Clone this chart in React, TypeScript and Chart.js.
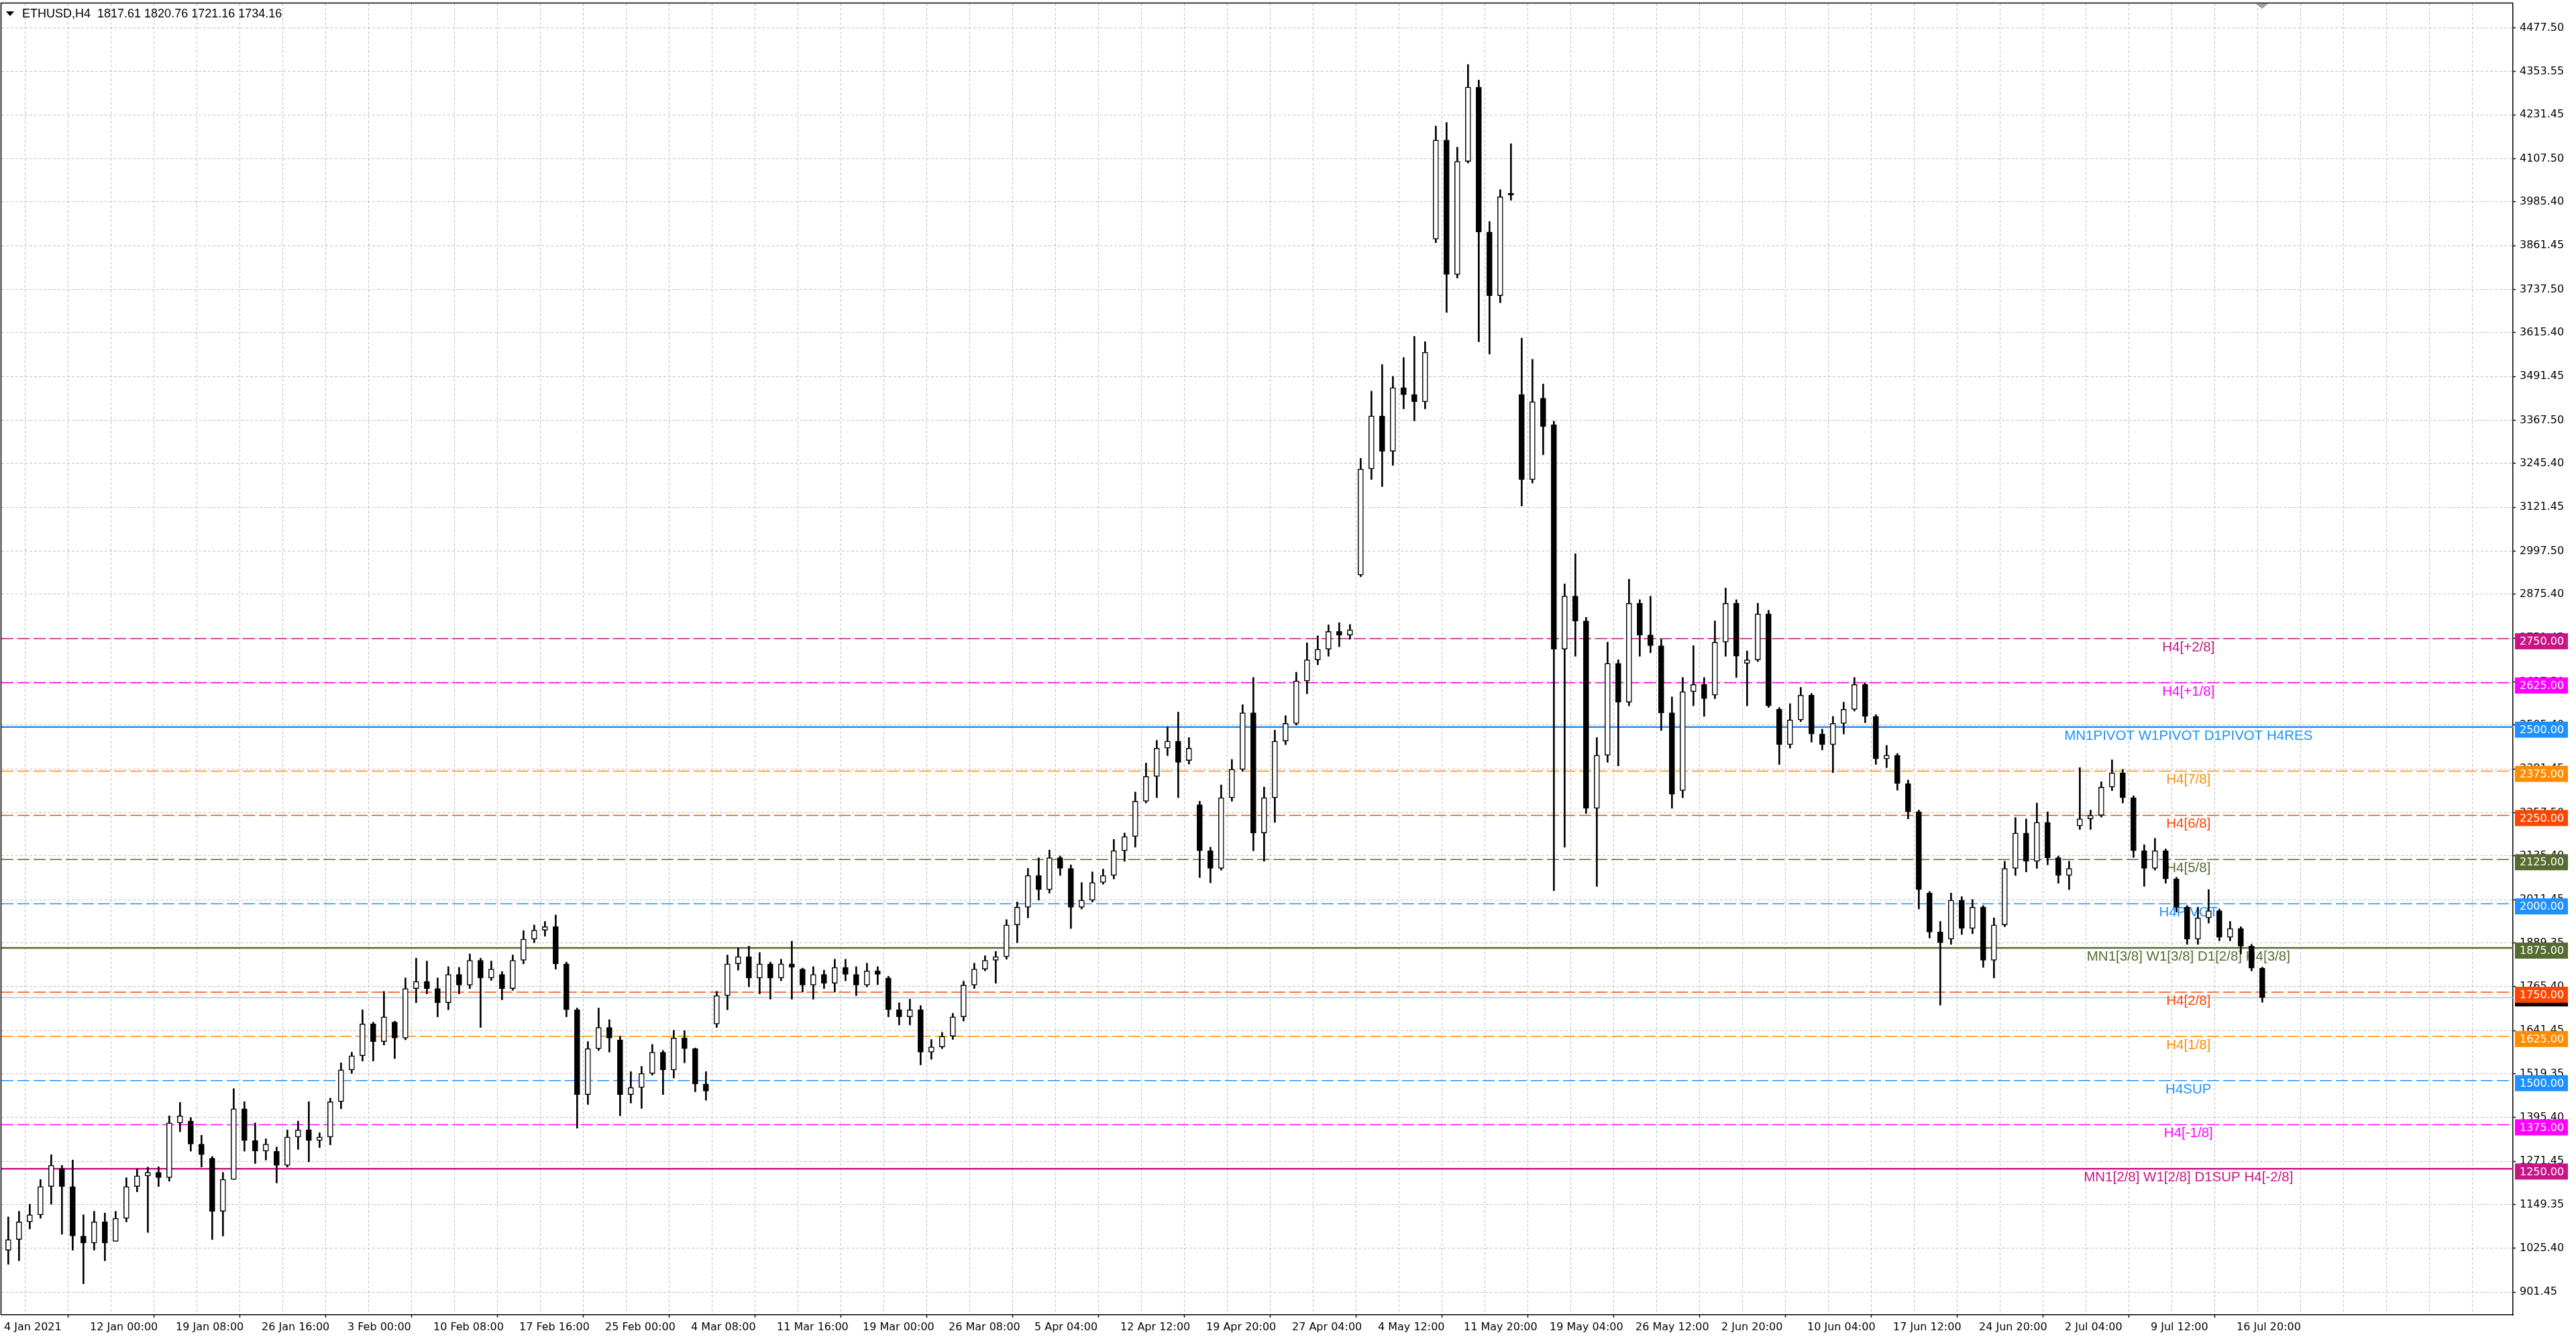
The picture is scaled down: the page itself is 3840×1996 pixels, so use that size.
import React, { useEffect, useRef } from 'react';
import { Chart, registerables } from 'chart.js';

Chart.register(...registerables);

// time axis, one label every 32 H4 bars
const DATE_LABELS = [
  '4 Jan 2021', '12 Jan 00:00', '19 Jan 08:00', '26 Jan 16:00', '3 Feb 00:00',
  '10 Feb 08:00', '17 Feb 16:00', '25 Feb 00:00', '4 Mar 08:00', '11 Mar 16:00',
  '19 Mar 00:00', '26 Mar 08:00', '5 Apr 04:00', '12 Apr 12:00', '19 Apr 20:00',
  '27 Apr 04:00', '4 May 12:00', '11 May 20:00', '19 May 04:00', '26 May 12:00',
  '2 Jun 20:00', '10 Jun 04:00', '17 Jun 12:00', '24 Jun 20:00', '2 Jul 04:00',
  '9 Jul 12:00', '16 Jul 20:00',
];

// price scale as printed on the right
const PRICE_TICKS = [
  901.45, 1025.40, 1149.35, 1271.45, 1395.40, 1519.35, 1641.45, 1765.40, 1889.35, 2011.45,
  2135.40, 2257.50, 2381.45, 2505.40, 2627.50, 2751.45, 2875.40, 2997.50, 3121.45, 3245.40,
  3367.50, 3491.45, 3615.40, 3737.50, 3861.45, 3985.40, 4107.50, 4231.45, 4353.55, 4477.50,
];

// ETHUSD candles (8 candles per date label)
const OPEN = [
  1020, 1050, 1100, 1120, 1200, 1250, 1200, 1060, 1040, 1100,
  1045, 1110, 1200, 1230, 1240, 1225, 1380, 1385, 1320, 1280,
  1130, 1220, 1420, 1330, 1300, 1300, 1260, 1340, 1360, 1330,
  1340, 1440, 1530, 1570, 1660, 1610, 1665, 1620, 1760, 1780,
  1760, 1720, 1800, 1770, 1840, 1790, 1800, 1760, 1840, 1900,
  1925, 1935, 1830, 1700, 1460, 1590, 1650, 1615, 1460, 1480,
  1520, 1580, 1530, 1620, 1590, 1490, 1660, 1740, 1830, 1850,
  1790, 1830, 1790, 1830, 1815, 1770, 1800, 1775, 1820, 1800,
  1770, 1810, 1790, 1700, 1680, 1700, 1580, 1595, 1625, 1680,
  1770, 1815, 1840, 1850, 1940, 1990, 2080, 2040, 2130, 2100,
  1990, 2010, 2060, 2080, 2150, 2190, 2290, 2360, 2440, 2460,
  2405, 2280, 2150, 2100, 2300, 2380, 2540, 2200, 2300, 2460,
  2510, 2630, 2690, 2720, 2770, 2760, 2930, 3230, 3380, 3280,
  3460, 3440, 3420, 3880, 4160, 3780, 4100, 4310, 3900, 3720,
  4010, 3440, 3200, 3430, 3355, 2720, 2870, 2800, 2270, 2420,
  2680, 2570, 2850, 2760, 2730, 2540, 2320, 2600, 2620, 2590,
  2740, 2850, 2680, 2690, 2820, 2550, 2450, 2520, 2590, 2480,
  2450, 2510, 2550, 2620, 2530, 2410, 2420, 2340, 2260, 2030,
  1920, 1900, 2010, 1930, 1990, 1840, 1940, 2100, 2200, 2120,
  2230, 2130, 2080, 2220, 2240, 2250, 2330, 2370, 2300, 2150,
  2100, 2150, 2070, 1990, 1900, 1960, 1980, 1905, 1930, 1880, 1817.61,
];
const HIGH = [
  1114, 1130, 1150, 1220, 1290, 1260, 1275, 1120, 1130, 1125,
  1130, 1225, 1250, 1255, 1256, 1400, 1438, 1395, 1345, 1285,
  1240, 1477, 1440, 1380, 1335, 1312, 1360, 1385, 1440, 1352,
  1450, 1550, 1580, 1700, 1665, 1752, 1668, 1790, 1846, 1838,
  1790, 1822, 1820, 1858, 1846, 1838, 1808, 1855, 1924, 1940,
  1950, 1968, 1835, 1705, 1610, 1705, 1672, 1625, 1525, 1540,
  1602, 1585, 1642, 1641, 1592, 1525, 1752, 1855, 1875, 1880,
  1862, 1835, 1843, 1894, 1818, 1822, 1812, 1843, 1843, 1822,
  1832, 1822, 1795, 1720, 1730, 1712, 1616, 1636, 1690, 1781,
  1832, 1853, 1865, 1955, 2005, 2100, 2130, 2152, 2135, 2110,
  2060, 2090, 2098, 2182, 2200, 2316, 2398, 2462, 2500, 2542,
  2470, 2290, 2160, 2336, 2408, 2563, 2640, 2330, 2491, 2532,
  2655, 2738, 2758, 2789, 2795, 2790, 3260, 3450, 3525, 3492,
  3545, 3605, 3590, 4200, 4210, 4140, 4374, 4330, 3930, 4020,
  4150, 3600, 3540, 3470, 3365, 2905, 2990, 2810, 2470, 2740,
  2690, 2918, 2860, 2870, 2748, 2585, 2640, 2730, 2640, 2800,
  2893, 2860, 2715, 2850, 2830, 2555, 2566, 2612, 2595, 2494,
  2530, 2570, 2640, 2625, 2535, 2448, 2425, 2350, 2265, 2035,
  1950, 2030, 2020, 2012, 1995, 1960, 2120, 2244, 2240, 2285,
  2260, 2135, 2120, 2385, 2265, 2345, 2407, 2380, 2305, 2167,
  2185, 2155, 2075, 1995, 1990, 2040, 1985, 1950, 1935, 1885, 1820.76,
];
const LOW = [
  980, 990, 1080, 1110, 1150, 1065, 1020, 925, 1020, 990,
  1045, 1100, 1185, 1070, 1200, 1215, 1355, 1300, 1255, 1050,
  1060, 1220, 1300, 1265, 1275, 1210, 1255, 1305, 1270, 1310,
  1318, 1420, 1520, 1555, 1555, 1600, 1562, 1615, 1720, 1745,
  1680, 1700, 1745, 1760, 1650, 1783, 1728, 1755, 1830, 1890,
  1908, 1815, 1680, 1365, 1432, 1585, 1580, 1400, 1436, 1421,
  1515, 1460, 1507, 1550, 1468, 1444, 1650, 1700, 1812, 1765,
  1745, 1730, 1782, 1730, 1750, 1730, 1760, 1750, 1782, 1740,
  1765, 1771, 1680, 1657, 1657, 1544, 1560, 1590, 1616, 1668,
  1760, 1810, 1775, 1843, 1890, 1960, 2010, 2030, 2080, 1930,
  1985, 2005, 2055, 2070, 2120, 2160, 2285, 2300, 2419, 2300,
  2395, 2074, 2059, 2095, 2290, 2375, 2150, 2120, 2230, 2450,
  2505, 2594, 2676, 2700, 2727, 2748, 2925, 3200, 3180, 3240,
  3400, 3366, 3400, 3870, 3673, 3770, 4095, 3590, 3555, 3700,
  3990, 3125, 3190, 3270, 2037, 2160, 2700, 2255, 2049, 2400,
  2390, 2560, 2700, 2710, 2490, 2270, 2300, 2560, 2530, 2580,
  2700, 2640, 2560, 2685, 2555, 2394, 2440, 2515, 2457, 2435,
  2371, 2480, 2545, 2512, 2394, 2385, 2321, 2240, 1985, 1903,
  1713, 1885, 1913, 1915, 1820, 1790, 1935, 2080, 2090, 2100,
  2110, 2058, 2040, 2210, 2210, 2245, 2320, 2285, 2131, 2049,
  2095, 2058, 1976, 1885, 1885, 1945, 1895, 1895, 1858, 1810, 1721.16,
];
const CLOSE = [
  1050, 1100, 1120, 1200, 1260, 1200, 1060, 1040, 1100, 1040,
  1110, 1200, 1230, 1240, 1225, 1380, 1400, 1320, 1290, 1130,
  1220, 1420, 1330, 1300, 1320, 1260, 1340, 1360, 1330, 1340,
  1440, 1530, 1570, 1660, 1610, 1680, 1620, 1760, 1780, 1760,
  1720, 1800, 1770, 1840, 1790, 1815, 1760, 1840, 1900, 1925,
  1935, 1830, 1700, 1460, 1590, 1650, 1620, 1460, 1480, 1520,
  1580, 1530, 1620, 1590, 1490, 1470, 1740, 1830, 1850, 1790,
  1830, 1790, 1830, 1820, 1770, 1800, 1775, 1820, 1800, 1770,
  1810, 1800, 1700, 1680, 1700, 1580, 1595, 1625, 1680, 1770,
  1815, 1840, 1850, 1940, 1990, 2080, 2040, 2130, 2100, 1990,
  2010, 2060, 2080, 2150, 2190, 2290, 2360, 2440, 2460, 2400,
  2440, 2150, 2100, 2300, 2380, 2540, 2200, 2300, 2460, 2510,
  2630, 2690, 2720, 2770, 2760, 2775, 3230, 3380, 3280, 3460,
  3440, 3420, 3560, 4160, 3780, 4100, 4310, 3900, 3720, 4000,
  4005, 3200, 3420, 3350, 2720, 2870, 2800, 2270, 2420, 2680,
  2570, 2850, 2760, 2730, 2540, 2310, 2600, 2620, 2580, 2740,
  2850, 2700, 2690, 2820, 2560, 2450, 2520, 2590, 2480, 2450,
  2510, 2550, 2620, 2530, 2410, 2420, 2340, 2260, 2040, 1920,
  1890, 2010, 1930, 1990, 1840, 1940, 2100, 2200, 2120, 2230,
  2130, 2080, 2100, 2240, 2250, 2330, 2370, 2300, 2150, 2100,
  2150, 2070, 1990, 1900, 1960, 1980, 1905, 1930, 1880, 1818, 1734.16,
];

// murrey / pivot levels drawn by the indicator
const LEVEL_PRICES = [2750, 2625, 2500, 2375, 2250, 2125, 2000, 1875, 1750, 1625, 1500, 1375, 1250];
const LEVEL_NAMES = [
  'H4[+2/8]', 'H4[+1/8]', 'MN1PIVOT W1PIVOT D1PIVOT H4RES', 'H4[7/8]', 'H4[6/8]', 'H4[5/8]',
  'H4PIVOT', 'MN1[3/8] W1[3/8] D1[2/8] H4[3/8]', 'H4[2/8]', 'H4[1/8]', 'H4SUP', 'H4[-1/8]',
  'MN1[2/8] W1[2/8] D1SUP H4[-2/8]',
];
const LEVEL_COLORS = [
  '#C71585', '#FF00FF', '#1E90FF', '#FF8C00', '#FF4500', '#556B2F', '#1E90FF',
  '#556B2F', '#FF4500', '#FF8C00', '#1E90FF', '#FF00FF', '#C71585',
];
const LEVEL_SOLID = [false, false, true, false, false, false, false, true, false, false, false, false, true];

const LAST_BID = 1734.16;
const TITLE = 'ETHUSD,H4  1817.61 1820.76 1721.16 1734.16';

const CANDLES_PER_LABEL = 8;
const X_MIN = -0.031;
const X_MAX = 29.219;
const Y_MIN = 837;
const Y_MAX = 4547;
const LEVEL_TEXT_AT = 25.44;

const AXIS_FONT = { family: '"DejaVu Sans", Verdana, sans-serif', size: 16 };

const levelsPlugin = {
  id: 'levels',
  beforeDatasetsDraw(chart: any) {
    const { ctx, chartArea, scales } = chart;
    const y = scales.y;
    const x = scales.x;
    ctx.save();
    // bid line
    const by = y.getPixelForValue(LAST_BID);
    ctx.strokeStyle = '#c0c0c0';
    ctx.lineWidth = 1.5;
    ctx.beginPath();
    ctx.moveTo(chartArea.left, by);
    ctx.lineTo(chartArea.right, by);
    ctx.stroke();

    LEVEL_PRICES.forEach((p, i) => {
      const py = y.getPixelForValue(p);
      ctx.strokeStyle = LEVEL_COLORS[i];
      ctx.lineWidth = LEVEL_SOLID[i] ? 2.5 : 1.5;
      ctx.setLineDash(LEVEL_SOLID[i] ? [] : [18, 6]);
      ctx.beginPath();
      ctx.moveTo(chartArea.left, py);
      ctx.lineTo(chartArea.right, py);
      ctx.stroke();
      ctx.setLineDash([]);
      ctx.fillStyle = LEVEL_COLORS[i];
      ctx.font = '20.5px "Liberation Sans", Arial, sans-serif';
      ctx.textAlign = 'center';
      ctx.textBaseline = 'top';
      ctx.fillText(LEVEL_NAMES[i], x.getPixelForValue(LEVEL_TEXT_AT), py + 3);
    });
    ctx.restore();
  },
  afterDraw(chart: any) {
    const { ctx, chartArea, scales } = chart;
    const y = scales.y;
    ctx.save();

    // frame on the left and top
    ctx.strokeStyle = '#000';
    ctx.lineWidth = 1.5;
    ctx.beginPath();
    ctx.moveTo(1.5, chartArea.bottom);
    ctx.lineTo(1.5, 4.5);
    ctx.lineTo(chartArea.right, 4.5);
    ctx.stroke();

    // price tags on the axis
    const boxX = chartArea.right + 3;
    const bidY = y.getPixelForValue(LAST_BID) + 4;
    ctx.fillStyle = '#000';
    ctx.fillRect(boxX, bidY - 9, 79, 18);
    ctx.font = '16px "DejaVu Sans", Verdana, sans-serif';
    ctx.textAlign = 'left';
    ctx.textBaseline = 'middle';
    LEVEL_PRICES.forEach((p, i) => {
      const cy = y.getPixelForValue(p) + 4;
      ctx.fillStyle = LEVEL_COLORS[i];
      ctx.fillRect(boxX, cy - 12, 79, 24);
      ctx.fillStyle = '#fff';
      ctx.fillText(p.toFixed(2), chartArea.right + 10, cy + 1);
    });

    // symbol header
    ctx.fillStyle = '#000';
    ctx.beginPath();
    ctx.moveTo(9, 17);
    ctx.lineTo(21, 17);
    ctx.lineTo(15, 24);
    ctx.closePath();
    ctx.fill();
    ctx.font = '18px "Liberation Sans", Arial, sans-serif';
    ctx.textBaseline = 'alphabetic';
    ctx.fillText(TITLE, 33, 26);

    // chart shift marker
    ctx.fillStyle = '#a0a0a0';
    ctx.beginPath();
    ctx.moveTo(3362, 5);
    ctx.lineTo(3382, 5);
    ctx.lineTo(3372, 13);
    ctx.closePath();
    ctx.fill();
    ctx.restore();
  },
};

const App: React.FC = () => {
  const canvasRef = useRef<HTMLCanvasElement>(null);
  const chartRef = useRef<Chart | null>(null);

  useEffect(() => {
    const ctx = canvasRef.current?.getContext('2d');
    if (!ctx) return;
    if (chartRef.current) chartRef.current.destroy();

    const xs = OPEN.map((_, k) => (k + 0.4) / CANDLES_PER_LABEL);
    const bodies = OPEN.map((o, k) => ({ x: xs[k], y: [Math.min(o, CLOSE[k]), Math.max(o, CLOSE[k])] }));
    const wicks = OPEN.map((_, k) => ({ x: xs[k], y: [LOW[k], HIGH[k]] }));
    const fills = OPEN.map((o, k) => (CLOSE[k] >= o ? '#ffffff' : '#000000'));
    const halfSteps: number[] = [];
    for (let v = 0; v <= X_MAX; v += 0.5) halfSteps.push(v);

    const isLabelTick = (v: number) => Math.abs(v - Math.round(v)) < 1e-6 && Math.round(v) < DATE_LABELS.length;

    chartRef.current = new Chart(ctx, {
      type: 'bar',
      data: {
        datasets: [
          {
            data: bodies as any,
            backgroundColor: fills,
            borderColor: '#000',
            borderWidth: 1.5,
            borderSkipped: false,
            barThickness: 8,
            grouped: false,
            order: 0,
          } as any,
          {
            data: wicks as any,
            backgroundColor: '#000',
            borderWidth: 0,
            barThickness: 2,
            grouped: false,
            order: 1,
          } as any,
        ],
      },
      options: {
        animation: false,
        responsive: true,
        maintainAspectRatio: false,
        events: [],
        layout: { padding: { left: 2, top: 5, right: 0, bottom: 0 } },
        plugins: { legend: { display: false }, tooltip: { enabled: false } },
        scales: {
          x: {
            type: 'linear',
            offset: false,
            min: X_MIN,
            max: X_MAX,
            afterBuildTicks: (s: any) => {
              s.ticks = halfSteps.map((v) => ({ value: v }));
            },
            afterFit: (s: any) => {
              s.height = 36;
              s.paddingLeft = 0;
              s.paddingRight = 0;
            },
            ticks: {
              autoSkip: false,
              maxRotation: 0,
              minRotation: 0,
              align: 'start',
              padding: 5,
              color: '#000',
              font: AXIS_FONT,
              callback: (value: any) => {
                const v = Number(value);
                return isLabelTick(v) ? DATE_LABELS[Math.round(v)] : '';
              },
            },
            grid: {
              color: '#c0c0c0',
              lineWidth: 1,
              tickLength: 4,
              tickWidth: 1.5,
              tickColor: (c: any) => (c.tick && isLabelTick(c.tick.value) ? '#000' : 'rgba(0,0,0,0)'),
            },
            border: { display: true, color: '#000', width: 1.5, dash: [4, 3] },
          },
          y: {
            type: 'linear',
            position: 'right',
            min: Y_MIN,
            max: Y_MAX,
            afterBuildTicks: (s: any) => {
              s.ticks = PRICE_TICKS.map((v) => ({ value: v }));
            },
            afterFit: (s: any) => {
              s.width = 94;
              s.paddingTop = 0;
              s.paddingBottom = 0;
            },
            ticks: {
              padding: 6,
              color: '#000',
              font: AXIS_FONT,
              callback: (value: any) => Number(value).toFixed(2),
            },
            grid: { color: '#c0c0c0', lineWidth: 1, tickLength: 4, tickWidth: 1.5, tickColor: '#000' },
            border: { display: true, color: '#000', width: 1.5, dash: [4, 3] },
          },
        },
      } as any,
      plugins: [levelsPlugin],
    });

    return () => {
      if (chartRef.current) {
        chartRef.current.destroy();
        chartRef.current = null;
      }
    };
  }, []);

  return (
    <div style={{ position: 'fixed', left: 0, top: 0, width: 3840, height: 1996, background: '#fff' }}>
      <canvas ref={canvasRef}></canvas>
    </div>
  );
};

export default App;
